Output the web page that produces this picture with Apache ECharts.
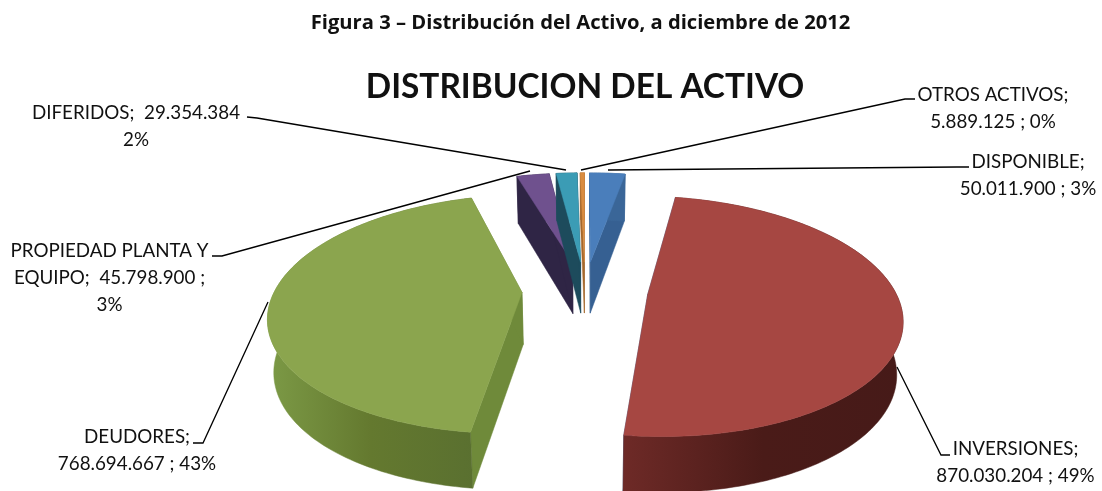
<!DOCTYPE html>
<html><head><meta charset="utf-8">
<style>html,body{margin:0;padding:0;background:#fff}#c{width:1102px;height:491px}</style>
<script src="https://cdn.jsdelivr.net/npm/echarts@6/dist/echarts.min.js"></script>
</head><body><div id="c"></div>
<script>
const categories = ['DISPONIBLE','INVERSIONES','DEUDORES','PROPIEDAD PLANTA Y EQUIPO','DIFERIDOS','OTROS ACTIVOS'];
const seriesValues = [50011900, 870030204, 768694667, 45798900, 29354384, 5889125];
const labelTemplates = [
  '{n};\n{v} ; {p}',
  '{n};\n{v} ; {p}',
  '{n};\n{v} ; {p}',
  'PROPIEDAD PLANTA Y\nEQUIPO;  {v} ;\n{p}',
  '{n};  {v}\n{p}',
  '{n};\n{v} ; {p}'
];
const labelBoxes = [[1028,148],[1015.5,435.5],[137,423],[109.5,237],[136,99],[993,81]];
const leaderLines = [
  [[969,167],[957,167],[608,170]],
  [[950,455],[941,455],[897,367]],
  [[193,443],[203,443],[268,302]],
  [[212,256],[222,256],[530,171]],
  [[247,117],[257,118],[566,170]],
  [[915,99],[905,99],[581,170]]
];
const topColors = ['#4a7ebb','#a64742','#8ba54e','#6f518e','#3b9cb5','#d98c40'];
const sideColors = ['#366092','#366092','#6f8a3a','#2f2545','#1d4b5c','#a5682c'];
const rimStops = [
  ['#3a6698','#3a6698'],
  ['#6e2a27','#4a1b18','#461a18'],
  ['#7c9a46','#64792f','#5a7030'],
  ['#2f2545','#2f2545'],
  ['#1d4b5c','#1d4b5c'],
  ['#a5682c','#a5682c']
];

const total = seriesValues.reduce((a,b)=>a+b,0);
const CX=585, CY=290, RX=247, RY=114.6, PERSP=0.181, EXPLODE=0.255, BOTTOM_X=0.98;
const fmt = v => String(v).replace(/\B(?=(\d{3})+(?!\d))/g,'.');
const labelText = i => labelTemplates[i]
  .replace('{n}',categories[i]).replace('{v}',fmt(seriesValues[i]))
  .replace('{p}',Math.round(seriesValues[i]/total*100)+'%');

function project(u,v,down){
  const s = 1/(1-PERSP*v);
  return [CX+RX*u*s*(down?BOTTOM_X:1), CY+RY*v*s+(down?52+4*v:0)];
}
function sliceAngles(i){
  let a=0; for(let k=0;k<i;k++) a+=seriesValues[k];
  return [a/total*2*Math.PI,(a+seriesValues[i])/total*2*Math.PI];
}
function renderSlice(params){
  const i=params.dataIndex, [a0,a1]=sliceAngles(i), mid=(a0+a1)/2;
  const ou=EXPLODE*Math.sin(mid), ov=-EXPLODE*Math.cos(mid);
  const at=(a,down)=>project(ou+Math.sin(a),ov-Math.cos(a),down);
  const apex=down=>project(ou,ov,down);
  const n=Math.max(4,Math.ceil((a1-a0)/0.02));
  const arc=[],arcLow=[];
  for(let k=0;k<=n;k++){const a=a0+(a1-a0)*k/n;arc.push(at(a,false));arcLow.push(at(a,true));}
  const stops=rimStops[i];
  const grad=new echarts.graphic.LinearGradient(0,0,1,0,
    stops.map((c,k)=>({offset:k/(stops.length-1),color:c})));
  const poly=(pts,fill)=>({type:'polygon',shape:{points:pts},style:{fill:fill,stroke:fill,lineWidth:0.5}});
  return {type:'group',children:[
    poly([apex(false),arc[0],arcLow[0],apex(true)],sideColors[i]),
    poly([apex(false),arc[n],arcLow[n],apex(true)],sideColors[i]),
    poly(arc.concat(arcLow.slice().reverse()),grad),
    poly([apex(false)].concat(arc),topColors[i])
  ]};
}
const graphics=[];
leaderLines.forEach(pts=>graphics.push({type:'polyline',z:10,shape:{points:pts},style:{stroke:'#000',lineWidth:1.3,fill:null}}));
categories.forEach((c,i)=>graphics.push({type:'text',z:10,x:labelBoxes[i][0],y:labelBoxes[i][1],
  style:{text:labelText(i),font:'18.8px Lato',fill:'#111',align:'center',verticalAlign:'top',lineHeight:27}}));

const chart=echarts.init(document.getElementById('c'),null,{renderer:'canvas'});
chart.setOption({
  backgroundColor:'#fff',animation:false,
  title:[
    {text:'Figura 3 – Distribución del Activo, a diciembre de 2012',left:575.5,top:8,textAlign:'center',
     textStyle:{fontFamily:'Open Sans',fontWeight:'bold',fontSize:20.2,color:'#111'}},
    {text:'DISTRIBUCION DEL ACTIVO',left:580,top:66,textAlign:'center',
     textStyle:{fontFamily:'Lato',fontWeight:'bold',fontSize:33.4,color:'#111'}}
  ],
  series:[{type:'custom',coordinateSystem:'none',renderItem:renderSlice,data:seriesValues,silent:true}],
  graphic:graphics
});
</script></body></html>
